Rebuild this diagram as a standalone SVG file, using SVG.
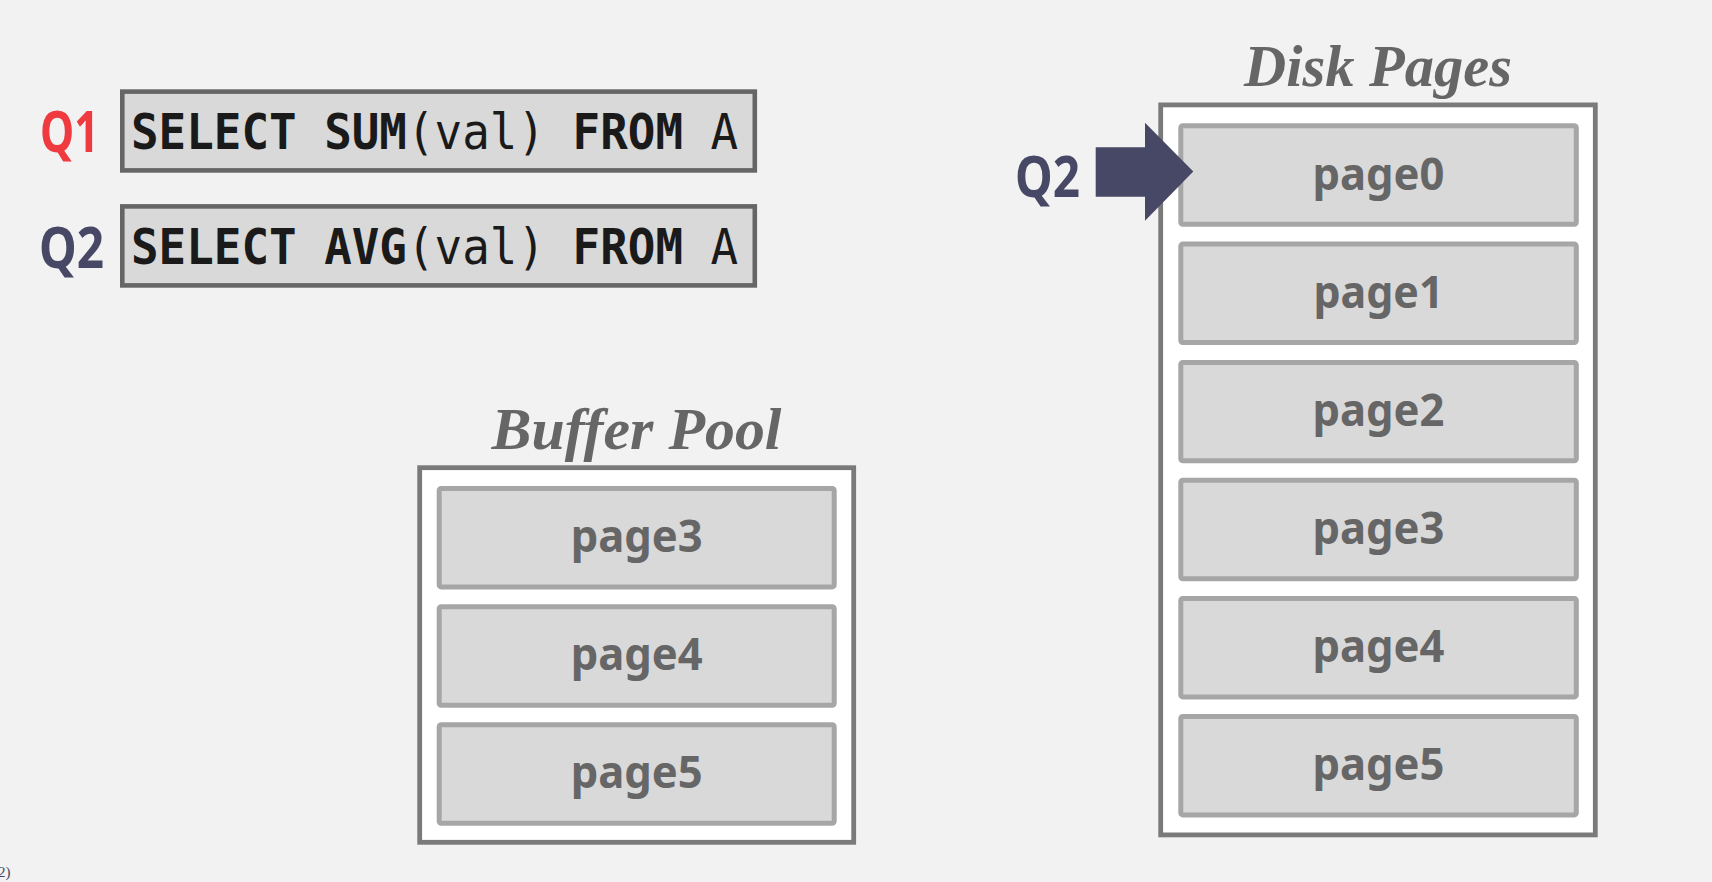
<svg xmlns="http://www.w3.org/2000/svg" width="1712" height="882" viewBox="0 0 1712 882">
<style>
.bg{fill:#f2f2f2}
.qbox{fill:#d9d9d9;stroke:#666666;stroke-width:4.6}
.qlbl{font-family:"Noto Sans","Open Sans",sans-serif;font-weight:700;font-size:58px}
.sql{font-family:"DejaVu Sans Mono","Liberation Mono",monospace;font-size:49px;fill:#1a1a1a}
.b{font-weight:700}
.r{font-weight:400}
.outer{fill:#ffffff;stroke:#7a7a7a;stroke-width:4.8}
.page{fill:#d9d9d9;stroke:#a6a6a6;stroke-width:5}
.ptxt{font-family:"Noto Sans","Open Sans",sans-serif;font-weight:700;font-size:45px;fill:#666666;text-anchor:middle}
.title{font-family:"Liberation Serif","Times New Roman",serif;font-style:italic;font-weight:700;font-size:60px;fill:#666666;text-anchor:middle}
.arrow{fill:#474766}
</style>
<rect class="bg" x="0" y="0" width="1712" height="882"/>

<g id="q1">
<text class="qlbl" x="40" y="152" fill="#ef3b40" textLength="59" lengthAdjust="spacingAndGlyphs">Q1</text>
<rect class="qbox" x="122.3" y="91.6" width="632.5" height="78.8"/>
<g transform="translate(131 149) scale(0.9356 1)">
<text class="sql b" x="0" y="0">SELECT SUM</text>
<text class="sql r" x="295" y="0">(val)</text>
<text class="sql b" x="472" y="0">FROM</text>
<text class="sql r" x="619.5" y="0">A</text>
</g>
</g>

<g id="q2">
<text class="qlbl" x="39" y="267.5" fill="#474766" textLength="65" lengthAdjust="spacingAndGlyphs">Q2</text>
<rect class="qbox" x="122.3" y="206.4" width="632.5" height="79"/>
<g transform="translate(131 264) scale(0.9356 1)">
<text class="sql b" x="0" y="0">SELECT AVG</text>
<text class="sql r" x="295" y="0">(val)</text>
<text class="sql b" x="472" y="0">FROM</text>
<text class="sql r" x="619.5" y="0">A</text>
</g>
</g>

<g id="buffer-pool">
<text class="title" x="636.5" y="449" textLength="290" lengthAdjust="spacingAndGlyphs">Buffer Pool</text>
<rect class="outer" x="419.7" y="467.7" width="434" height="374.6"/>
<g id="bp-page3">
<rect class="page" x="439.2" y="488.5" width="395" height="98.4" rx="2"/>
<text class="ptxt" x="636.7" y="552" textLength="132" lengthAdjust="spacingAndGlyphs">page3</text>
</g>
<g id="bp-page4">
<rect class="page" x="439.2" y="606.8" width="395" height="98.4" rx="2"/>
<text class="ptxt" x="636.7" y="670.3" textLength="132" lengthAdjust="spacingAndGlyphs">page4</text>
</g>
<g id="bp-page5">
<rect class="page" x="439.2" y="724.8" width="395" height="98.4" rx="2"/>
<text class="ptxt" x="636.7" y="788.3" textLength="132" lengthAdjust="spacingAndGlyphs">page5</text>
</g>
</g>

<g id="disk-pages">
<text class="title" x="1378" y="86" textLength="268" lengthAdjust="spacingAndGlyphs">Disk Pages</text>
<rect class="outer" x="1160.7" y="104.9" width="434.6" height="730"/>
<g id="disk-page0">
<rect class="page" x="1180.8" y="125.8" width="395.5" height="98.4" rx="2"/>
<text class="ptxt" x="1378.5" y="189.5" textLength="132" lengthAdjust="spacingAndGlyphs">page0</text>
</g>
<g id="disk-page1">
<rect class="page" x="1180.8" y="244.1" width="395.5" height="98.4" rx="2"/>
<text class="ptxt" x="1378.5" y="308" textLength="130" lengthAdjust="spacingAndGlyphs">page1</text>
</g>
<g id="disk-page2">
<rect class="page" x="1180.8" y="362.4" width="395.5" height="98.4" rx="2"/>
<text class="ptxt" x="1378.5" y="426.3" textLength="132" lengthAdjust="spacingAndGlyphs">page2</text>
</g>
<g id="disk-page3">
<rect class="page" x="1180.8" y="480.3" width="395.5" height="98.4" rx="2"/>
<text class="ptxt" x="1378.5" y="544.2" textLength="132" lengthAdjust="spacingAndGlyphs">page3</text>
</g>
<g id="disk-page4">
<rect class="page" x="1180.8" y="598.5" width="395.5" height="98.4" rx="2"/>
<text class="ptxt" x="1378.5" y="662.4" textLength="132" lengthAdjust="spacingAndGlyphs">page4</text>
</g>
<g id="disk-page5">
<rect class="page" x="1180.8" y="716.5" width="395.5" height="98.4" rx="2"/>
<text class="ptxt" x="1378.5" y="780.4" textLength="132" lengthAdjust="spacingAndGlyphs">page5</text>
</g>
</g>

<g id="q2-cursor">
<text class="qlbl" x="1015" y="197" fill="#474766" textLength="65" lengthAdjust="spacingAndGlyphs">Q2</text>
</g>

<g id="connectors">
<polygon class="arrow" points="1095.7,147.3 1145,147.3 1145,122.7 1193.3,171.6 1145,220.7 1145,196.7 1095.7,196.7"/>
</g>

<text x="-2" y="877" font-family="Liberation Serif, serif" font-size="15" fill="#474766">2)</text>
</svg>
